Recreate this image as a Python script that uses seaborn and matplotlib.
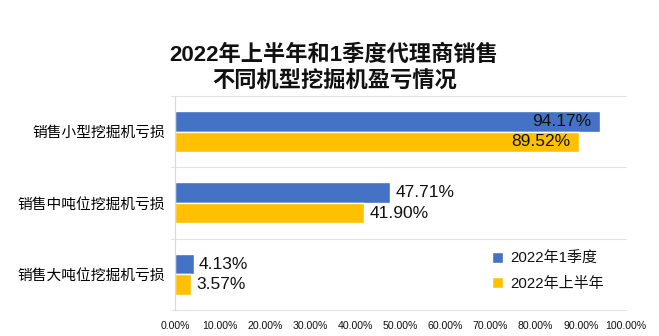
import matplotlib
matplotlib.use("Agg")
import matplotlib.pyplot as plt
import seaborn as sns
import pandas as pd
from matplotlib.ticker import FuncFormatter

categories = ["销售小型挖掘机亏损", "销售中吨位挖掘机亏损", "销售大吨位挖掘机亏损"]
series_names = ["2022年1季度", "2022年上半年"]
q1_values = [94.17, 47.71, 4.13]
h1_values = [89.52, 41.90, 3.57]
x_ticks = [0, 10, 20, 30, 40, 50, 60, 70, 80, 90, 100]

colors = ["#4472C4", "#FFC000"]

df = pd.DataFrame({
    "cat": categories * 2,
    "series": [series_names[0]] * 3 + [series_names[1]] * 3,
    "value": q1_values + h1_values,
})

sns.set_theme(style="white")
FAM = ["Liberation Sans", "Noto Sans CJK SC", "DejaVu Sans"]
plt.rcParams["font.family"] = FAM

fig = plt.figure(figsize=(6.59, 3.36), dpi=100)
ax = fig.add_axes([0.2656, 0.0774, 0.684, 0.637])

sns.barplot(data=df, y="cat", x="value", hue="series", orient="h",
            palette=colors, width=0.575, ax=ax, saturation=1, legend=True)

ax.set_xlim(0, 100)
ax.set_ylim(2.5, -0.5)
ax.set_xticks(x_ticks)
ax.xaxis.set_major_formatter(FuncFormatter(lambda v, p: f"{v:.2f}%"))
ax.tick_params(axis="x", labelsize=7.6, colors="#111111", length=0, pad=8)
ax.tick_params(axis="y", labelsize=10.6, colors="#000000", length=0, pad=7)
for lab in ax.get_yticklabels():
    lab.set_fontweight("medium")
ax.set_xlabel("")
ax.set_ylabel("")

for s in ["top", "right", "bottom"]:
    ax.spines[s].set_visible(False)
ax.spines["left"].set_color("#d9d9d9")
ax.spines["left"].set_linewidth(0.8)

for yb in [-0.5, 0.5, 1.5, 2.5]:
    ax.axhline(yb, xmin=-0.01, xmax=1.0, color="#e3e3e3", linewidth=0.8, clip_on=False, zorder=0)

for cont in ax.containers:
    for patch in cont:
        w = patch.get_width()
        yc = patch.get_y() + patch.get_height() / 2
        label = f"{w:.2f}%"
        if w > 80:
            ax.text(w - 1.8, yc, label, ha="right", va="center", fontsize=12.5, color="#111111")
        else:
            ax.text(w + 1.2, yc, label, ha="left", va="center", fontsize=12.5, color="#111111")

leg = ax.legend(loc="upper left", bbox_to_anchor=(0.703, 0.272), frameon=False, fontsize=10.8,
                handlelength=0.75, handleheight=0.75, handletextpad=0.5, labelspacing=0.75,
                borderpad=0, borderaxespad=0)
for t in leg.get_texts():
    t.set_color("#111111")

fig.text(0.507, 1 - 55 / 336, "2022年上半年和1季度代理商销售", ha="center", va="center",
         fontsize=16, fontweight="bold", color="#111111")
fig.text(0.507, 1 - 82 / 336, "不同机型挖掘机盈亏情况", ha="center", va="center",
         fontsize=16, fontweight="bold", color="#111111")

fig.savefig("out.png", dpi=100, facecolor="white")
